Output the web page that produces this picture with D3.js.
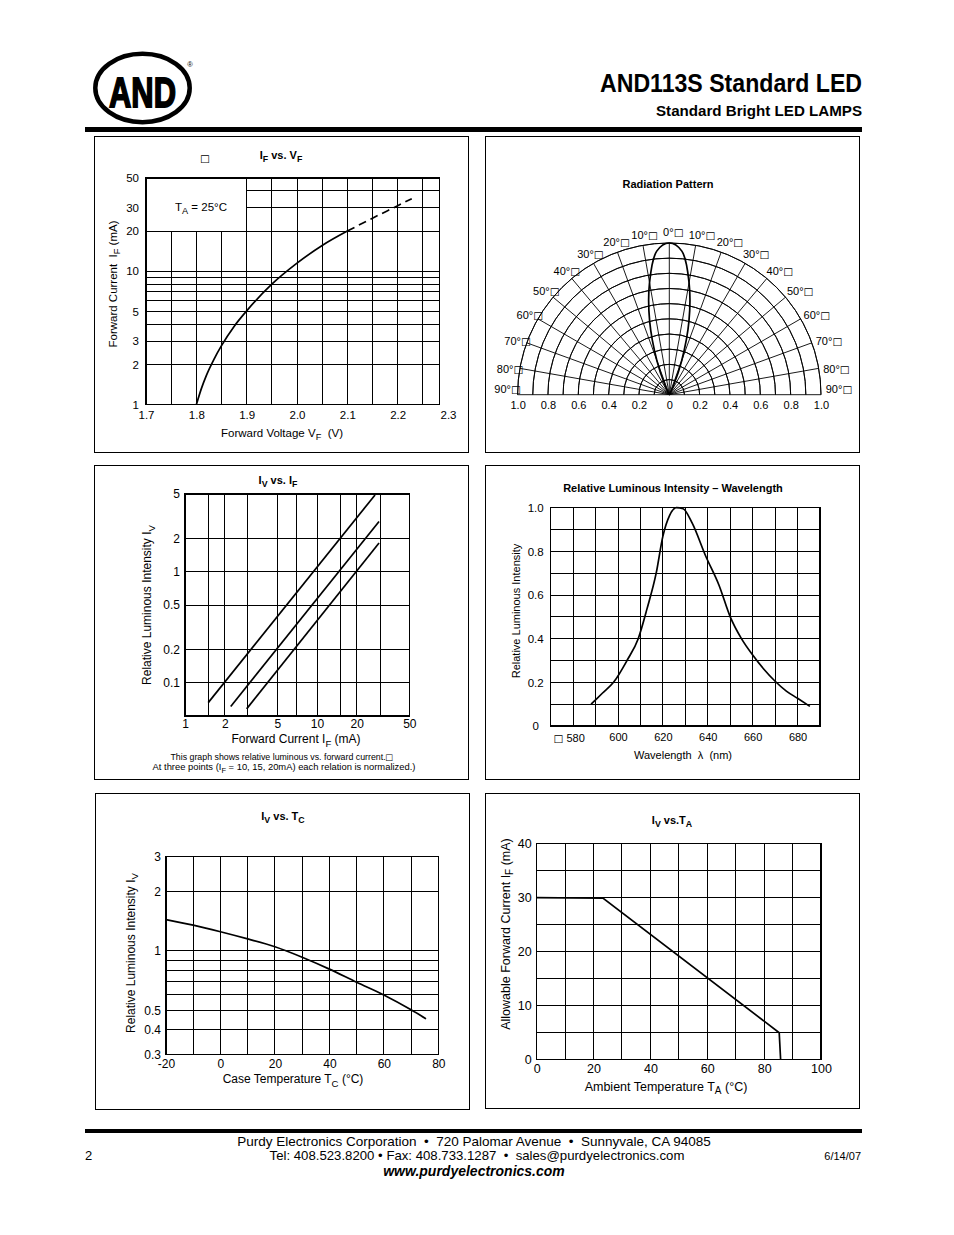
<!DOCTYPE html>
<meta charset="utf-8">
<style>
body { margin: 0; background: #fff; }
svg { font-family: "Liberation Sans", Arial, Helvetica, sans-serif; }
.panel { fill: none; stroke: #000; stroke-width: 1; shape-rendering: crispEdges; }
.frame { fill: none; stroke: #000; stroke-width: 1.3; shape-rendering: crispEdges; }
.grid { stroke: #000; stroke-width: 1; shape-rendering: crispEdges; }
.polar { fill: none; stroke: #000; stroke-width: 0.9; }
.curve { fill: none; stroke: #000; stroke-width: 1.7; }
</style>
<body>
<script src="https://d3js.org/d3.v7.min.js"></script>
<script>

var FONT = '"Liberation Sans", Arial, Helvetica, sans-serif';
var SP = "\u00a0";

// ---- IF vs VF ----
var vfSolid  = [1.8, 1.81, 1.82, 1.835, 1.85, 1.875, 1.9, 1.95, 2.0, 2.05, 2.1];
var ifSolid  = [1, 1.32, 1.66, 2.19, 2.77, 3.86, 5.05, 8.0, 11.5, 15.6, 20];
var vfDashed = [2.1, 2.15, 2.2, 2.228];
var ifDashed = [20, 25, 31, 35];
var vfTicks  = [1.7, 1.8, 1.9, 2.0, 2.1, 2.2, 2.3];
var ifTicks  = [1, 2, 3, 5, 10, 20, 30, 50];
var vfGrid   = [1.75, 1.8, 1.85, 1.9, 1.95, 2.0, 2.05, 2.1, 2.15, 2.2, 2.25];
var ifGrid   = [2, 3, 4, 5, 6, 7, 8, 9, 10, 20, 30, 40];

// ---- radiation pattern ----
var radAngle     = [0, 5, 10, 15, 20, 25, 30];
var radIntensity = [1.0, 0.95, 0.75, 0.5, 0.24, 0.06, 0];
var radAngleTicks = [0, 10, 20, 30, 40, 50, 60, 70, 80, 90];
var radTicks = [-1, -0.8, -0.6, -0.4, -0.2, 0, 0.2, 0.4, 0.6, 0.8, 1];

// ---- IV vs IF (three normalisations) ----
var ivifCurrentA = [1.5, 27.5],  ivifIntensityA = [0.066, 4.9];
var ivifCurrentB = [2.22, 29.5], ivifIntensityB = [0.061, 2.83];
var ivifCurrentC = [2.93, 29.5], ivifIntensityC = [0.058, 1.81];
var ivifXTicks = [1, 2, 5, 10, 20, 50];
var ivifYTicks = [0.1, 0.2, 0.5, 1, 2, 5];
var ivifXGrid  = [1.5, 2, 3, 5, 7, 10, 15, 20, 30];
var ivifYGrid  = [0.1, 0.2, 0.5, 1, 2];

// ---- relative intensity vs wavelength ----
var wavelength  = [588, 593, 598, 604, 609, 613, 617, 620, 623, 626, 629, 633, 639, 645, 650, 655, 660, 665, 670, 675, 680, 685.5];
var wlIntensity = [0.1, 0.15, 0.2, 0.3, 0.4, 0.54, 0.7, 0.87, 0.965, 1.0, 0.995, 0.93, 0.78, 0.645, 0.5, 0.4, 0.325, 0.26, 0.205, 0.16, 0.127, 0.09];
var wlTicks  = [580, 600, 620, 640, 660, 680];
var wlYTicks = [0, 0.2, 0.4, 0.6, 0.8, 1.0];
var wlXGrid  = [580, 590, 600, 610, 620, 630, 640, 650, 660, 670, 680];
var wlYGrid  = [0.1, 0.2, 0.3, 0.4, 0.5, 0.6, 0.7, 0.8, 0.9];

// ---- IV vs TC ----
var caseTemp    = [-20, -10, 0, 10, 20, 30, 40, 50, 60, 70, 75.5];
var tcIntensity = [1.44, 1.35, 1.25, 1.15, 1.05, 0.93, 0.81, 0.695, 0.6, 0.505, 0.455];
var tcTicks  = [-20, 0, 20, 40, 60, 80];
var tcYTicks = [0.3, 0.4, 0.5, 1, 2, 3];
var tcXGrid  = [-10, 0, 10, 20, 30, 40, 50, 60, 70];
var tcYGrid  = [0.4, 0.5, 0.6, 0.7, 0.8, 0.9, 1, 2];

// ---- allowable IF vs TA ----
var ambTemp   = [0, 23.4, 85.3, 85.8];
var allowedIf = [30, 29.9, 5, 0];
var taTicks  = [0, 20, 40, 60, 80, 100];
var taYTicks = [0, 10, 20, 30, 40];
var taXGrid  = [10, 20, 30, 40, 50, 60, 70, 80, 90];
var taYGrid  = [5, 10, 15, 20, 25, 30, 35];

var svg = d3.select("body").append("svg")
    .attr("width", 954)
    .attr("height", 1235);

// text with subscript parts: ["I", ["F"], " vs. V", ["F"]]; "□" drawn as a box glyph
function label(g, x, y, parts, size, opts) {
  opts = opts || {};
  var t = g.append("text")
      .attr("x", x).attr("y", y)
      .attr("font-size", size)
      .attr("text-anchor", opts.anchor || "middle")
      .attr("font-weight", opts.bold ? "bold" : null)
      .attr("font-style", opts.italic ? "italic" : null);
  if (opts.rotate) t.attr("transform", "rotate(-90," + x + "," + y + ")");
  var shift = 0;
  parts.forEach(function(p) {
    var isSub = typeof p !== "string";
    var s = isSub ? p[0] : p;
    var d = isSub ? size * 0.3 : 0;
    s.split("□").forEach(function(piece, k) {
      if (k > 0) {
        t.append("tspan")
            .attr("dy", d - shift)
            .attr("font-size", size * 0.95)
            .attr("font-weight", "normal")
            .attr("font-family", "DejaVu Sans")
            .text("□");
        shift = d;
      }
      if (piece.length) {
        t.append("tspan")
            .attr("dy", d - shift)
            .attr("font-size", isSub ? size * 0.8 : size)
            .text(piece);
        shift = d;
      }
    });
  });
  return t;
}

function panel(x0, y0, x1, y1) {
  svg.append("rect").attr("class", "panel")
      .attr("x", x0).attr("y", y0)
      .attr("width", x1 - x0).attr("height", y1 - y0);
}

function vlines(g, x, vals, y0, y1, w) {
  g.selectAll(null).data(vals).enter().append("line")
      .attr("class", "grid")
      .attr("x1", function(d) { return x(d); })
      .attr("x2", function(d) { return x(d); })
      .attr("y1", y0).attr("y2", y1)
      .attr("stroke-width", w || 1);
}

function hlines(g, y, vals, x0, x1) {
  g.selectAll(null).data(vals).enter().append("line")
      .attr("class", "grid")
      .attr("y1", function(d) { return y(d); })
      .attr("y2", function(d) { return y(d); })
      .attr("x1", x0).attr("x2", x1);
}

function frame(g, x0, y0, x1, y1) {
  g.append("rect").attr("class", "frame")
      .attr("x", x0).attr("y", y0)
      .attr("width", x1 - x0).attr("height", y1 - y0);
}

function styleAxis(a, size) {
  a.select(".domain").remove();
  a.selectAll("text").attr("font-size", size).attr("font-family", FONT).attr("fill", "#000");
  return a;
}

function yAxis(g, scale, ticks, x, size, pad, fmt) {
  return styleAxis(g.append("g")
      .attr("transform", "translate(" + x + ",0)")
      .call(d3.axisLeft(scale).tickValues(ticks).tickSize(0).tickPadding(pad).tickFormat(fmt)), size);
}

function xAxis(g, scale, ticks, y, size, pad, fmt) {
  return styleAxis(g.append("g")
      .attr("transform", "translate(0," + y + ")")
      .call(d3.axisBottom(scale).tickValues(ticks).tickSize(0).tickPadding(pad).tickFormat(fmt)), size);
}

function zip(a, b) { return a.map(function(v, i) { return [v, b[i]]; }); }

// ================= header =================
var hd = svg.append("g");
hd.append("ellipse")
    .attr("cx", 142.5).attr("cy", 88)
    .attr("rx", 47.2).attr("ry", 34.2)
    .attr("fill", "none").attr("stroke", "#000").attr("stroke-width", 4.5);
hd.append("text")
    .attr("x", 142.5).attr("y", 107)
    .attr("text-anchor", "middle")
    .attr("font-size", 43).attr("font-weight", "bold")
    .attr("stroke", "#000").attr("stroke-width", 1.8)
    .attr("textLength", 67).attr("lengthAdjust", "spacingAndGlyphs")
    .text("AND");
hd.append("text")
    .attr("x", 190).attr("y", 67)
    .attr("text-anchor", "middle").attr("font-size", 7.5)
    .text("®");
hd.append("text")
    .attr("x", 862).attr("y", 92)
    .attr("text-anchor", "end")
    .attr("font-size", 25.5).attr("font-weight", "bold")
    .attr("textLength", 262).attr("lengthAdjust", "spacingAndGlyphs")
    .text("AND113S Standard LED");
hd.append("text")
    .attr("x", 862).attr("y", 115.5)
    .attr("text-anchor", "end")
    .attr("font-size", 14.5).attr("font-weight", "bold")
    .attr("textLength", 206).attr("lengthAdjust", "spacingAndGlyphs")
    .text("Standard Bright LED LAMPS");
hd.append("rect")
    .attr("x", 85).attr("y", 127)
    .attr("width", 777).attr("height", 5);

// ================= panels =================
panel(94.5, 136.5, 468, 452);
panel(485.5, 136.5, 859.5, 452);
panel(94.5, 465.5, 468, 779.5);
panel(485.5, 465.5, 859.5, 779.5);
panel(95.5, 793.5, 469.5, 1109.5);
panel(485.5, 793.5, 859.5, 1108.5);

// ================= chart 1 : IF vs VF =================
(function() {
  var g = svg.append("g");
  var x = d3.scaleLinear().domain([1.7, 2.3]).range([146, 448]);
  var y = d3.scaleLog().domain([1, 50]).range([404.7, 178]);
  var xEnd = x(2.283);

  vlines(g, x, vfGrid.filter(function(d) { return d < 1.9; }), y(1), y(20));
  vlines(g, x, vfGrid.filter(function(d) { return d > 1.9; }), y(1), y(50));
  vlines(g, x, [1.9], y(20), y(1));
  vlines(g, x, [1.9], y(50), y(20), 2.2);
  hlines(g, y, ifGrid.filter(function(d) { return d <= 20; }), x(1.7), xEnd);
  hlines(g, y, ifGrid.filter(function(d) { return d > 20; }), x(1.9), xEnd);
  frame(g, x(1.7), y(50), xEnd, y(1));

  var line = d3.line()
      .x(function(d) { return x(d[0]); })
      .y(function(d) { return y(d[1]); })
      .curve(d3.curveMonotoneX);
  g.append("path").attr("class", "curve").attr("d", line(zip(vfSolid, ifSolid)));
  g.append("path").attr("class", "curve")
      .attr("stroke-dasharray", "8,5")
      .attr("d", line(zip(vfDashed, ifDashed)));

  yAxis(g, y, ifTicks, x(1.7), 11.5, 7, d3.format("d"));
  xAxis(g, x, vfTicks, y(1), 11.5, 6, d3.format(".1f"));

  label(g, 201, 211, ["T", ["A"], " = 25°C"], 11.5);
  label(g, 205, 162, ["□"], 11);
  label(g, 281, 159, ["I", ["F"], " vs. V", ["F"]], 11, {bold: true});
  label(g, 282, 437, ["Forward Voltage V", ["F"], SP + SP + "(V)"], 11.5);
  label(g, 117, 284, ["Forward Current" + SP + SP + "I", ["F"], " (mA)"], 11.5, {rotate: true});
})();

// ================= chart 2 : radiation pattern =================
(function() {
  var g = svg.append("g");
  var cx = 669.3, cy = 394.7, R = 151.7;
  var r = d3.scaleLinear().domain([0, 1]).range([0, R]);
  var gp = g.append("g").attr("transform", "translate(" + cx + "," + cy + ")");

  var rings = d3.range(1, 11).map(function(i) { return i / 10; });
  var arc = d3.arc().startAngle(-Math.PI / 2).endAngle(Math.PI / 2);
  gp.selectAll(null).data(rings).enter().append("path")
      .attr("class", "polar")
      .attr("d", function(d) { return arc({innerRadius: r(d), outerRadius: r(d)}); });

  var spokes = d3.range(-80, 81, 10);
  gp.selectAll(null).data(spokes).enter().append("line")
      .attr("class", "polar")
      .attr("x1", 0).attr("y1", 0)
      .attr("x2", function(d) { return r(1) * Math.sin(d * Math.PI / 180); })
      .attr("y2", function(d) { return -r(1) * Math.cos(d * Math.PI / 180); });
  gp.append("line").attr("class", "polar")
      .attr("x1", -r(1)).attr("x2", r(1)).attr("y1", 0).attr("y2", 0);

  var pts = [];
  for (var i = radAngle.length - 1; i > 0; i--) pts.push([-radAngle[i], radIntensity[i]]);
  for (var j = 0; j < radAngle.length; j++) pts.push([radAngle[j], radIntensity[j]]);
  var lobe = d3.lineRadial()
      .angle(function(d) { return d[0] * Math.PI / 180; })
      .radius(function(d) { return r(d[1]); })
      .curve(d3.curveCatmullRom);
  gp.append("path").attr("class", "curve").attr("d", lobe(pts));

  var xr = d3.scaleLinear().domain([-1, 1]).range([cx - R, cx + R]);
  xAxis(g, xr, radTicks, cy, 11, 6.5, function(d) {
    return d === 0 ? "0" : Math.abs(d).toFixed(1);
  });

  var angLabels = [];
  radAngleTicks.forEach(function(a) {
    angLabels.push(-a);
    if (a !== 0) angLabels.push(a);
  });
  angLabels.forEach(function(d) {
    var a = d * Math.PI / 180;
    var lx = cx + (R + 14) * Math.sin(a) + 4;
    var ly = cy - (R + 14) * Math.cos(a) + 7;
    if (Math.abs(d) === 90) ly -= 9;
    label(g, lx, ly, [Math.abs(d) + "°□"], 11);
  });

  label(g, 668, 188, ["Radiation Pattern"], 11, {bold: true});
})();

// ================= chart 3 : IV vs IF =================
(function() {
  var g = svg.append("g");
  var x = d3.scaleLog().domain([1, 50]).range([185, 409.3]);
  var y = d3.scaleLog().domain([0.05, 5]).range([716, 494]);

  vlines(g, x, ivifXGrid, y(0.05), y(5));
  hlines(g, y, ivifYGrid, x(1), x(50));
  frame(g, x(1), y(5), x(50), y(0.05));

  var line = d3.line()
      .x(function(d) { return x(d[0]); })
      .y(function(d) { return y(d[1]); });
  [[ivifCurrentA, ivifIntensityA], [ivifCurrentB, ivifIntensityB], [ivifCurrentC, ivifIntensityC]]
    .forEach(function(s) {
      g.append("path").attr("class", "curve").attr("d", line(zip(s[0], s[1])));
    });

  yAxis(g, y, ivifYTicks, x(1), 12, 5, String);
  xAxis(g, x, ivifXTicks, y(0.05), 12, 3, String);

  label(g, 278, 484, ["I", ["V"], " vs. I", ["F"]], 11, {bold: true});
  label(g, 296, 743, ["Forward Current I", ["F"], " (mA)"], 12);
  label(g, 151, 605, ["Relative Luminous Intensity I", ["V"]], 12, {rotate: true});
  label(g, 282, 760, ["This graph shows relative luminous vs. forward current.□"], 8.8);
  label(g, 284, 770, ["At three points (I", ["F"], " = 10, 15, 20mA) each relation is normalized.)"], 9.4);
})();

// ================= chart 4 : wavelength =================
(function() {
  var g = svg.append("g");
  var x = d3.scaleLinear().domain([570, 690]).range([550.7, 820]);
  var y = d3.scaleLinear().domain([0, 1]).range([726, 507.7]);

  vlines(g, x, wlXGrid, y(0), y(1));
  hlines(g, y, wlYGrid, x(570), x(690));
  frame(g, x(570), y(1), x(690), y(0));

  var line = d3.line()
      .x(function(d) { return x(d[0]); })
      .y(function(d) { return y(d[1]); })
      .curve(d3.curveMonotoneX);
  g.append("path").attr("class", "curve").attr("d", line(zip(wavelength, wlIntensity)));

  var ya = yAxis(g, y, wlYTicks, x(570), 11.5, 15, function(d) { return d === 0 ? "0" : d.toFixed(1); });
  ya.selectAll("text").attr("text-anchor", "middle");
  var xa = xAxis(g, x, wlTicks, y(0), 11, 7, String);
  xa.selectAll("text").filter(function(d) { return d === 580; }).remove();
  label(g, x(580) - 4, 741.5, ["□" + SP + "580"], 11);

  label(g, 673, 492, ["Relative Luminous Intensity – Wavelength"], 11, {bold: true});
  label(g, 683, 759, ["Wavelength" + SP + SP + "λ" + SP + SP + "(nm)"], 11);
  label(g, 520, 611, ["Relative Luminous Intensity"], 11, {rotate: true});
})();

// ================= chart 5 : IV vs TC =================
(function() {
  var g = svg.append("g");
  var x = d3.scaleLinear().domain([-20, 80]).range([166, 438.3]);
  var y = d3.scaleLog().domain([0.3, 3]).range([1054.7, 856.3]);

  vlines(g, x, tcXGrid, y(0.3), y(3));
  hlines(g, y, tcYGrid, x(-20), x(80));
  frame(g, x(-20), y(3), x(80), y(0.3));

  var line = d3.line()
      .x(function(d) { return x(d[0]); })
      .y(function(d) { return y(d[1]); })
      .curve(d3.curveMonotoneX);
  g.append("path").attr("class", "curve").attr("d", line(zip(caseTemp, tcIntensity)));

  yAxis(g, y, tcYTicks, x(-20), 12, 5, String);
  xAxis(g, x, tcTicks, y(0.3), 12, 5, String);

  label(g, 283, 820, ["I", ["V"], " vs. T", ["C"]], 11, {bold: true});
  label(g, 293, 1083, ["Case Temperature T", ["C"], " (°C)"], 12);
  label(g, 134.5, 953, ["Relative Luminous Intensity I", ["V"]], 12, {rotate: true});
})();

// ================= chart 6 : IF vs TA =================
(function() {
  var g = svg.append("g");
  var x = d3.scaleLinear().domain([0, 100]).range([536.7, 821]);
  var y = d3.scaleLinear().domain([0, 40]).range([1059.7, 843.7]);

  vlines(g, x, taXGrid, y(0), y(40));
  hlines(g, y, taYGrid, x(0), x(100));
  frame(g, x(0), y(40), x(100), y(0));

  var line = d3.line()
      .x(function(d) { return x(d[0]); })
      .y(function(d) { return y(d[1]); });
  g.append("path").attr("class", "curve").attr("d", line(zip(ambTemp, allowedIf)));

  yAxis(g, y, taYTicks, x(0), 12.5, 5, String);
  xAxis(g, x, taTicks, y(0), 12.5, 4, String);

  label(g, 672, 824, ["I", ["V"], " vs.T", ["A"]], 11, {bold: true});
  label(g, 666, 1090.5, ["Ambient Temperature T", ["A"], " (°C)"], 12.5);
  label(g, 509.5, 934, ["Allowable Forward Current I", ["F"], " (mA)"], 12.5, {rotate: true});
})();

// ================= footer =================
var ft = svg.append("g");
var dot = SP + SP + "•" + SP + SP;
ft.append("rect").attr("x", 85).attr("y", 1129).attr("width", 777).attr("height", 4);
label(ft, 474, 1145.5, ["Purdy Electronics Corporation" + dot + "720 Palomar Avenue" + dot + "Sunnyvale, CA 94085"], 13.5);
label(ft, 477, 1160, ["Tel:" + SP + "408.523.8200" + SP + "•" + SP + "Fax:" + SP + "408.733.1287" + dot + "sales@purdyelectronics.com"], 13.2);
label(ft, 474, 1176, ["www.purdyelectronics.com"], 14, {bold: true, italic: true});
label(ft, 85, 1160, ["2"], 13, {anchor: "start"});
label(ft, 861, 1160, ["6/14/07"], 11, {anchor: "end"});

</script>
</body>
